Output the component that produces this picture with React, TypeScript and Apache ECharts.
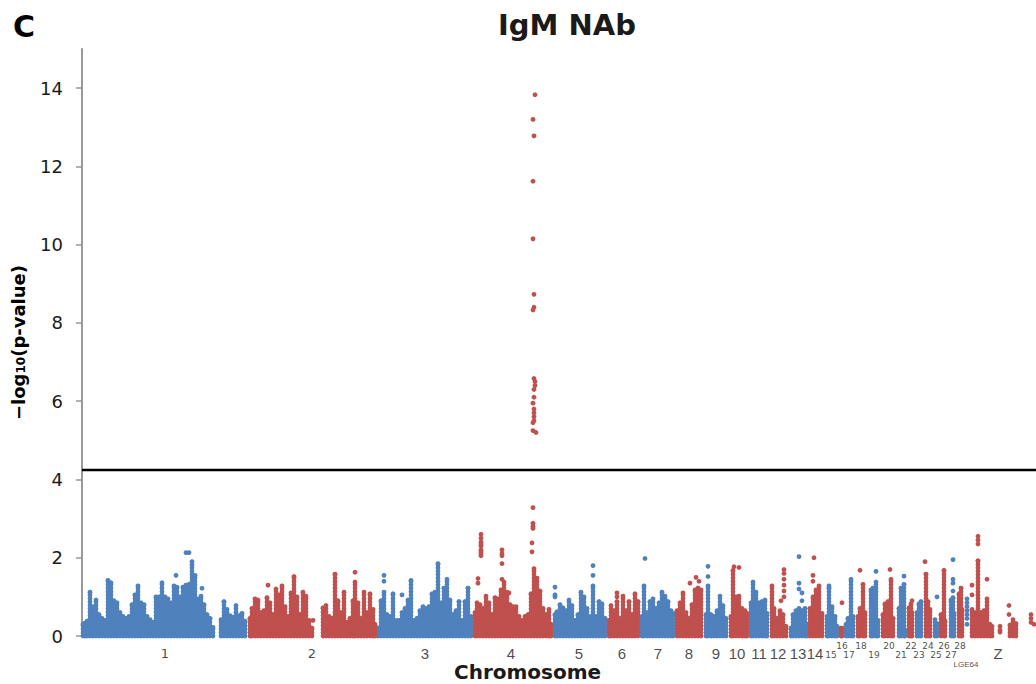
import React, { useEffect, useRef } from "react";
import * as echarts from "echarts";

type P = [number, number];

const BLUE = "#4F81BD";
const RED = "#C0504D";
const INK = "#1a1a1a";
const FONT = "'DejaVu Sans', Verdana, sans-serif";
const NARROW = "'Liberation Sans', Arial, sans-serif";

// Upper edge of the dense cloud of markers, [genome position, -log10 p], read per chromosome.
const chr1: P[] = [[83,.3],[85,.33],[87,.38],[90,1.12],[93,.75],[96,.92],[99,.55],[102,.45],[105,.4],[108,1.42],[111,1.36],[114,.9],[117,.85],[120,.6],[123,.5],[126,.45],[129,.5],[132,.8],[135,1.05],[138,1.28],[141,.85],[144,.8],[147,.5],[150,.42],[153,.35],[156,1],[159,1],[162,1.36],[165,1],[168,.95],[171,.85],[174,1.28],[177,1.25],[180,1],[183,1.25],[186,1.3],[189,1.32],[192,1.82],[195,1.55],[198,.95],[201,1.02],[204,.8],[207,.55],[210,.45],[213,.22]];
const chr1b: P[] = [[221,.42],[224,.88],[227,.68],[230,.52],[233,.48],[236,.78],[239,.52],[242,.58],[245,.38]];
const chr2: P[] = [[250,.45],[252,.7],[255,.95],[258,.92],[261,.6],[264,.65],[267,.98],[270,.85],[273,.55],[276,1.2],[279,1.05],[282,1.28],[285,.75],[288,.5],[291,1.1],[294,1.52],[297,1],[300,.55],[303,1.12],[306,1.02],[309,.4],[312,.2],[323,.72],[326,.78],[329,.5],[332,.45],[335,1.58],[338,.9],[341,.6],[344,1.12],[347,.35],[350,.45],[353,.9],[355,1.38],[358,.85],[361,.45],[364,1.12],[367,.6],[370,1.08],[373,.68],[375,.3]];
const chr3: P[] = [[378,.2],[381,.9],[384,1.12],[387,.55],[390,.5],[393,1.08],[396,.4],[399,.4],[402,.6],[405,.7],[408,.92],[411,1.42],[414,.4],[417,.45],[420,.65],[423,.75],[426,.7],[429,.75],[432,1.08],[435,1.12],[438,1.85],[441,.85],[444,1.22],[447,1.45],[450,.92],[453,.55],[456,.65],[459,.88],[462,.4],[465,.88],[468,1.22],[471,.5]];
const chr4: P[] = [[475,.6],[477,.85],[480,.8],[483,.7],[486,1.02],[489,.85],[492,.55],[495,.98],[498,.95],[501,1.18],[504,1.38],[507,1.12],[510,.8],[513,.75],[516,.75],[519,.5],[522,.4],[525,.5],[528,.55],[531,1.08],[534,1.72],[537,1.48],[540,1.15],[543,.7],[546,.55],[549,.68],[551,.3]];
const chr5: P[] = [[555,.55],[557,.62],[560,.8],[563,.72],[566,.65],[569,.92],[572,.78],[575,.4],[578,.55],[581,1.12],[584,1],[587,.7],[590,.5],[593,1.28],[596,.5],[599,.88],[602,.82],[605,.45]];
const chr6: P[] = [[609,.4],[611,.78],[614,.65],[617,.88],[620,.45],[623,1.02],[626,.65],[629,.88],[632,.55],[635,1.08],[638,.88]];
const chr7: P[] = [[642,.5],[644,1.28],[647,.6],[650,.88],[653,.95],[656,.7],[659,.85],[662,1.12],[665,1.02],[668,.88],[671,.65],[673,.58]];
const chr8: P[] = [[677,.65],[680,.85],[683,1.1],[686,.6],[689,.45],[692,.8],[695,1.18],[698,1.22],[701,1.18]];
const chr9: P[] = [[706,.55],[708,1.28],[711,.55],[714,.5],[717,.65],[720,1.02],[723,.78],[726,.45]];
const chr10: P[] = [[731,.5],[733,1.68],[736,1],[739,1.02],[742,.7],[745,.65],[747,.58]];
const chr11: P[] = [[751,.85],[753,1.38],[756,1.12],[759,.85],[762,.88],[765,.92],[767,.58]];
const chr12: P[] = [[772,1.28],[774,.7],[777,.45],[780,.65],[783,.55],[786,.25]];
const chr13: P[] = [[791,.2],[793,.55],[796,.65],[799,.7],[802,.65],[805,.7],[807,.3]];
const chr14: P[] = [[810,.7],[813,1],[816,1.18],[819,1.28],[822,.58]];
const chr15: P[] = [[827,.5],[829,1.22],[832,.75],[835,.5],[837,.25]];
const chr16: P[] = [[841,.2],[842,.2]];
const chr17: P[] = [[846,.3],[848,.45],[851,1.45],[853,.5]];
const chr18: P[] = [[858,.5],[860,.7],[863,1.32],[865,.6]];
const chr19: P[] = [[871,1.18],[873,1.22],[876,1.38],[878,.4]];
const chr20: P[] = [[883,.55],[885,.82],[888,.88],[891,1.45],[893,.45]];
const chr21: P[] = [[899,.7],[901,1.22],[904,1.32],[905,.15]];
const chr22: P[] = [[909,.72],[911,.82],[912,.6]];
const chr23: P[] = [[917,.6],[919,.82],[921,.88]];
const chr24: P[] = [[926,1.58],[928,.88],[930,.68]];
const chr25: P[] = [[935,.42],[937,.32]];
const chr26: P[] = [[941,.55],[944,1.68],[945,.38]];
const chr27: P[] = [[951,.92],[953,.98],[954,.58]];
const chr28: P[] = [[959,1.08],[961,1.22],[962,.68]];
const chrZ: P[] = [[972,.68],[975,.6],[978,1.92],[981,.6],[984,.65],[987,.95],[990,.3],[992,.25],[1010,.28],[1013,.42],[1016,.32]];

// Markers that stand clear of the cloud.
const blueSpots: P[] = [[186,2.13],[189,2.13],[176,1.55],[202,1.22],[192,1.9],[402,1.05],[384,1.55],[384,1.4],[645,1.98],[593,1.8],[593,1.55],[555,1.25],[555,1.05],[555,1],[708,1.78],[708,1.52],[799,2.03],[799,1.35],[799,1.2],[802,1.1],[802,.9],[829,1.28],[953,1.95],[953,1.45],[953,1.35],[953,1.15],[937,1],[904,1.53],[876,1.65],[967,.3],[967,.45],[967,.55],[967,.65],[967,.75],[967,.85],[967,.95]];
const redSpots: P[] = [[268,1.3],[313,.4],[355,1.63],[535,13.83],[533,13.2],[534,12.78],[533,11.62],[533,10.15],[534,8.73],[534,8.4],[533,8.33],[534,6.58],[535,6.5],[535,6.4],[534,6.3],[534,6.1],[533,5.95],[534,5.8],[534,5.7],[534,5.6],[534,5.5],[533,5.45],[533,5.25],[536,5.2],[481,2.6],[481,2.5],[481,2.4],[481,2.35],[481,2.3],[481,2.2],[481,2.15],[481,2.1],[481,2.05],[478,1.47],[478,1.35],[502,2.2],[502,2.1],[502,2.05],[502,1.85],[502,1.45],[509,1.1],[533,3.28],[533,2.88],[533,2.8],[533,2.75],[532,2.38],[532,2.15],[617,1.1],[617,1],[690,1.35],[696,1.5],[699,1.4],[739,1.75],[734,1.77],[781,.9],[784,1.7],[784,1.6],[784,1.45],[784,1.3],[784,1.15],[784,1],[814,2],[813,1.55],[813,1.4],[842,.85],[860,1.68],[890,1.7],[912,.9],[925,1.9],[972,1.05],[972,1.3],[978,2.55],[978,2.45],[978,2.35],[987,1.45],[1000,.1],[1000,.15],[1000,.25],[1009,.78],[1009,.55],[1031,.55],[1031,.45],[1031,.35],[1034,.3]];

const blueCloud: P[] = [...chr1, ...chr1b, ...chr3, ...chr5, ...chr7, ...chr9, ...chr11, ...chr13, ...chr15, ...chr17, ...chr19, ...chr21, ...chr23, ...chr25, ...chr27];
const redCloud: P[] = [...chr2, ...chr4, ...chr6, ...chr8, ...chr10, ...chr12, ...chr14, ...chr16, ...chr18, ...chr20, ...chr22, ...chr24, ...chr26, ...chr28, ...chrZ];

const threshold = 4.24;
const yTicks = [0, 2, 4, 6, 8, 10, 12, 14];

// name, position along the genome, label drop below the axis, label size
const chromLabels: [string, number, number, number][] = [
  ["1",165,17,13],["2",312,17,13],["3",425,17,15],["4",511,17,15],["5",579,17,15],["6",622,17,15],["7",658,17,15],
  ["8",689,17,15],["9",716,17,15],["10",737,17,15],["11",759,17,15],["12",778,17,15],["13",798,17,15],["14",815,17,15],
  ["15",831,19,9],["16",842,10,9],["17",849,19,9],["18",861,10,9],["19",874,19,9],["20",889,10,9],
  ["21",901,19,9],["22",911,10,9],["23",919,19,9],["24",928,10,9],["25",936,19,9],["26",944,10,9],
  ["27",951,19,9],["28",960,10,9],["LGE64",966,28,8],["Z",998,17,15],
];

const cloudSeries = (data: P[], color: string) => ({
  type: "custom",
  silent: true,
  clip: false,
  data,
  encode: { x: 0, y: 1 },
  renderItem: (_p: any, api: any) => {
    const x = api.value(0);
    const a = api.coord([x, 0]);
    const b = api.coord([x, api.value(1)]);
    return {
      type: "group",
      children: [
        {
          type: "line",
          shape: { x1: a[0], y1: a[1], x2: b[0], y2: b[1] },
          style: { stroke: color, lineWidth: 4.8, lineCap: "round", lineDash: [0.01, 3.4], fill: null },
        },
        { type: "circle", shape: { cx: b[0], cy: b[1], r: 2.4 }, style: { fill: color } },
      ],
    };
  },
});

const spotSeries = (data: P[], color: string) => ({
  type: "scatter",
  silent: true,
  symbol: "circle",
  symbolSize: 4.8,
  clip: false,
  itemStyle: { color, opacity: 1 },
  data,
});

export default function App() {
  const ref = useRef<HTMLDivElement>(null);
  useEffect(() => {
    const chart = echarts.init(ref.current!, null, { renderer: "svg" });
    chart.setOption({
      animation: false,
      backgroundColor: "#fff",
      title: {
        text: "IgM NAb",
        left: 562,
        top: 5,
        textAlign: "center",
        textStyle: { fontFamily: FONT, fontWeight: "bold", fontSize: 29, color: INK },
      },
      graphic: [
        { type: "text", left: 13, top: 11, style: { text: "C", fontFamily: FONT, fontWeight: "bold", fontSize: 30, fill: "#000" } },
        { type: "text", left: 454, top: 662, style: { text: "Chromosome", fontFamily: FONT, fontWeight: "bold", fontSize: 20, fill: INK } },
      ],
      grid: { left: 82, right: 0, top: 49, bottom: 48, containLabel: false, outerBoundsMode: "none" },
      xAxis: {
        type: "value",
        min: 82,
        max: 1036,
        axisLine: { show: false },
        axisTick: { show: false },
        axisLabel: { show: false },
        splitLine: { show: false },
      },
      yAxis: {
        type: "value",
        min: 0,
        max: 15,
        name: "{b|−log}{s|10}{b|(p-value)}",
        nameLocation: "middle",
        nameRotate: 90,
        nameGap: 55,
        nameTextStyle: {
          rich: {
            b: { fontFamily: FONT, fontWeight: "bold", fontSize: 18, color: "#000" },
            s: { fontFamily: FONT, fontWeight: "bold", fontSize: 12, color: "#000", padding: [6, 0, 0, 0] },
          },
        },
        axisLine: { show: true, lineStyle: { color: "#999", width: 2 } },
        axisTick: { show: true, length: 6, customValues: yTicks, lineStyle: { color: "#999", width: 1.5 } },
        axisLabel: { customValues: yTicks, fontFamily: FONT, fontSize: 18, color: INK, margin: 19 },
        splitLine: { show: false },
      },
      series: [
        cloudSeries(blueCloud, BLUE),
        cloudSeries(redCloud, RED),
        spotSeries(blueSpots, BLUE),
        spotSeries(redSpots, RED),
        {
          type: "line",
          silent: true,
          showSymbol: false,
          symbol: "none",
          lineStyle: { color: "#000", width: 2.5 },
          data: [[82, threshold], [1036, threshold]],
          z: 5,
        },
        {
          type: "scatter",
          silent: true,
          symbolSize: 1,
          clip: false,
          itemStyle: { color: "transparent" },
          data: chromLabels.map(([name, x, drop, size]) => ({
            value: [x, 0],
            label: {
              show: true,
              position: "inside",
              formatter: name,
              offset: [0, drop],
              fontSize: size,
              fontFamily: size === 15 || name === "LGE64" ? NARROW : FONT,
              color: INK,
            },
          })),
        },
      ],
    });
    return () => chart.dispose();
  }, []);
  return <div ref={ref} style={{ position: "absolute", left: 0, top: 0, width: 1036, height: 684 }} />;
}
